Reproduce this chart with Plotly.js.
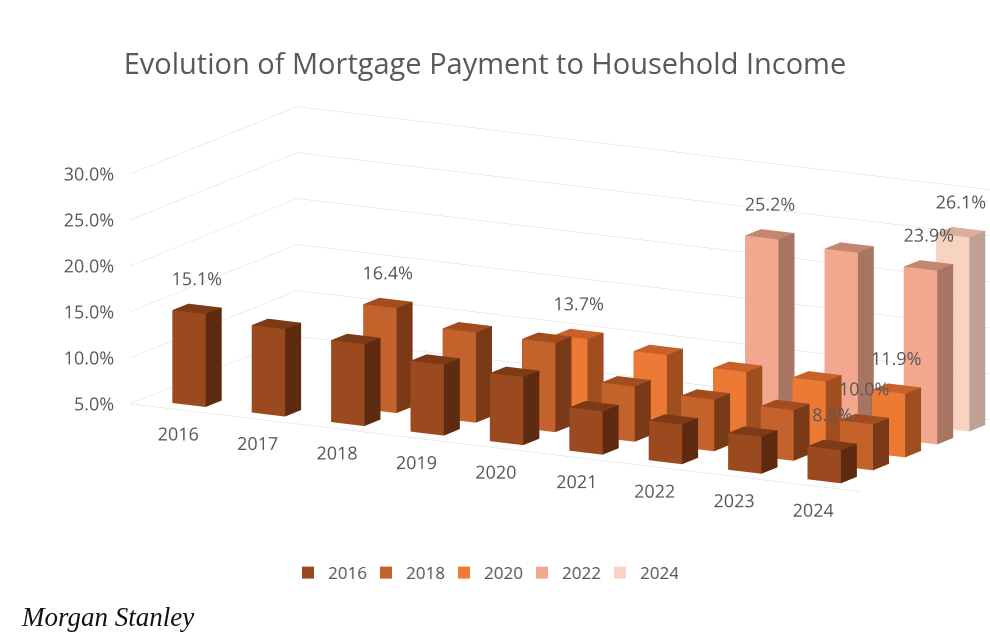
<!DOCTYPE html>
<html>
<head>
<meta charset="utf-8">
<script src="https://cdn.plot.ly/plotly-3.0.1.min.js"></script>
<style>
  html, body { margin: 0; padding: 0; background: #fff; overflow: hidden; }
  /* wider than the window so the 3d scene sits a little right of centre */
  #chart { width: 1089px; height: 641px; }
</style>
</head>
<body>
<div id="chart"></div>
<script>
// categories along the front (x) and the series going back (depth)
const years = ['2016', '2017', '2018', '2019', '2020', '2021', '2022', '2023', '2024'];
const seriesNames = ['2016', '2018', '2020', '2022', '2024'];

// payment / income in %, null where the cohort did not exist yet
const s2016 = [15.1, 14.5, 13.9, 12.7, 12.4, 9.7, 9.3, 9.0, 8.6];
const s2018 = [null, null, 16.4, 14.8, 14.7, 11.0, 10.6, 10.5, 10.0];
const s2020 = [null, null, null, null, 13.7, 13.0, 12.2, 12.2, 11.9];
const s2022 = [null, null, null, null, null, null, 25.2, 24.8, 23.9];
const s2024 = [null, null, null, null, null, null, null, null, 26.1];

const zTicks = [5, 10, 15, 20, 25, 30];
const zTickText = ['5.0%', '10.0%', '15.0%', '20.0%', '25.0%', '30.0%'];

// front, side, top colours for each series
const colFront = ['#9B4A1F', '#C4622B', '#EC7A34', '#F1A88E', '#F8D3C2'];
const colSide  = ['#5F2B10', '#7A3A18', '#A04E1F', '#A77562', '#BFA295'];
const colTop   = ['#7D3A16', '#A24D20', '#C8622A', '#C4866F', '#D9AE9D'];

const allSeries = [s2016, s2018, s2020, s2022, s2024];
const BASE = 5;
const BW = 0.21;  // half width of a bar
const BD = 0.25;  // half depth of a bar
const XR = [-0.6, 8.6];
const YR = [-0.6, 4.6];

function addBox(m, x0, x1, y0, y1, z0, z1, cf, cs, ct) {
    let n = m.x.length;
    let vx = [x0, x1, x1, x0, x0, x1, x1, x0];
    let vy = [y0, y0, y1, y1, y0, y0, y1, y1];
    let vz = [z0, z0, z0, z0, z1, z1, z1, z1];
    for (let k = 0; k < 8; k++) {
        m.x.push(vx[k]); m.y.push(vy[k]); m.z.push(vz[k]);
    }
    let faces = [
        [0, 1, 5, cf], [0, 5, 4, cf],   // front
        [3, 2, 6, cf], [3, 6, 7, cf],   // back
        [0, 3, 7, cs], [0, 7, 4, cs],   // left
        [1, 2, 6, cs], [1, 6, 5, cs],   // right
        [4, 5, 6, ct], [4, 6, 7, ct],   // top
        [0, 1, 2, ct], [0, 2, 3, ct]    // bottom
    ];
    faces.forEach(f => {
        m.i.push(n + f[0]); m.j.push(n + f[1]); m.k.push(n + f[2]);
        m.facecolor.push(f[3]);
    });
}

let traces = [];
let lx = [], ly = [], lz = [], lt = [];

allSeries.forEach((vals, s) => {
    let m = {x: [], y: [], z: [], i: [], j: [], k: [], facecolor: []};
    let first = -1, last = -1;
    vals.forEach((v, c) => {
        if (v === null) return;
        if (first < 0) first = c;
        last = c;
        addBox(m, c - BW, c + BW, s - BD, s + BD, BASE, v, colFront[s], colSide[s], colTop[s]);
    });
    traces.push({
        type: 'mesh3d',
        x: m.x, y: m.y, z: m.z, i: m.i, j: m.j, k: m.k,
        facecolor: m.facecolor,
        flatshading: true,
        lighting: {ambient: 1, diffuse: 0, specular: 0, fresnel: 0, roughness: 1},
        hoverinfo: 'skip',
        showlegend: false,
        name: seriesNames[s]
    });
    // labels on the first and last bar of each series
    [first, last].filter((c, idx, a) => a.indexOf(c) === idx).forEach(c => {
        lx.push(c); ly.push(s); lz.push(vals[c] + 0.6);
        lt.push(vals[c].toFixed(1) + '%');
    });
});

const txtFont = {family: 'Open Sans, sans-serif', size: 18, color: '#595959'};

// value labels
traces.push({
    type: 'scatter3d', mode: 'text',
    x: lx, y: ly, z: lz, text: lt,
    textposition: 'top center', textfont: txtFont,
    hoverinfo: 'skip', showlegend: false
});

// category labels along the front edge (gl axis text sizes are unreliable)
traces.push({
    type: 'scatter3d', mode: 'text',
    x: years.map((y, i) => i), y: years.map(() => YR[0] + 0.01), z: years.map(() => BASE),
    text: years,
    textposition: 'bottom center', textfont: txtFont,
    hoverinfo: 'skip', showlegend: false
});

// value-axis labels on the front left corner
traces.push({
    type: 'scatter3d', mode: 'text',
    x: zTicks.map(() => XR[0] + 0.01), y: zTicks.map(() => YR[0] + 0.01), z: zTicks,
    text: zTickText,
    textposition: 'middle left', textfont: txtFont,
    hoverinfo: 'skip', showlegend: false
});

// legend entries
seriesNames.forEach((nm, s) => {
    traces.push({
        type: 'bar', x: [null], y: [null], name: nm,
        marker: {color: colFront[s]},
        hoverinfo: 'skip'
    });
});

let axisCommon = {
    showbackground: false,
    showspikes: false,
    zeroline: false,
    showticklabels: false,
    ticks: '',
    title: {text: ''}
};

// camera direction: turned ~29 deg to the right, ~13 deg above
const eyeR = 3;
const eyeDir = [0.467, -0.856, 0.220];
const shift = {x: -0.135, y: -0.051, z: 0.066};

const W = 1089;   // figure width, the window shows the first 990 px

let layout = {
    width: W,
    height: 641,
    paper_bgcolor: '#fff',
    margin: {l: 0, r: 0, t: 0, b: 0},
    font: {family: 'Open Sans, sans-serif', color: '#595959'},
    title: {
        text: 'Evolution of Mortgage Payment to Household Income',
        font: {family: 'Open Sans, sans-serif', size: 29, color: '#595959'},
        x: 485 / W, xanchor: 'center', y: 0.9, yanchor: 'middle'
    },
    showlegend: true,
    legend: {
        orientation: 'h', x: 288 / W, xanchor: 'left', y: 0.106, yanchor: 'middle',
        font: {size: 17, color: '#595959'},
        entrywidth: 33, entrywidthmode: 'pixels'
    },
    xaxis: {visible: false},
    yaxis: {visible: false},
    scene: {
        domain: {x: [0, 1], y: [0.184, 0.934]},
        aspectmode: 'manual',
        aspectratio: {x: 3.46, y: 1.45, z: 0.98},
        camera: {
            eye: {x: eyeR * eyeDir[0] + shift.x, y: eyeR * eyeDir[1] + shift.y, z: eyeR * eyeDir[2] + shift.z},
            center: shift,
            projection: {type: 'orthographic'}
        },
        xaxis: Object.assign({}, axisCommon, {
            range: XR,
            tickvals: years.map((y, i) => i),
            showgrid: false,
            showline: true,
            linecolor: '#d9d9d9'
        }),
        yaxis: Object.assign({}, axisCommon, {
            range: YR,
            showgrid: false
        }),
        zaxis: Object.assign({}, axisCommon, {
            range: [5, 30],
            tickvals: zTicks,
            showgrid: true,
            gridcolor: '#d9d9d9'
        })
    },
    annotations: [{
        text: '<i>Morgan Stanley</i>',
        xref: 'paper', yref: 'paper', x: 19 / W, y: 0.037,
        xanchor: 'left', yanchor: 'middle', showarrow: false,
        font: {family: 'Liberation Serif, serif', size: 27, color: '#111'}
    }]
};

Plotly.newPlot('chart', traces, layout, {displayModeBar: false});
</script>
</body>
</html>
